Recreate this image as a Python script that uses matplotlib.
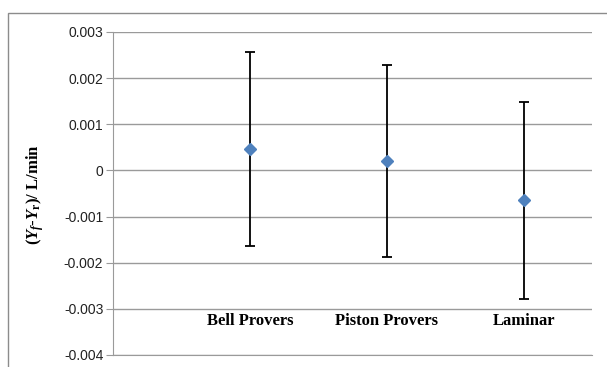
import numpy as np
import matplotlib.pyplot as plt
from matplotlib.patches import Rectangle

plt.rcParams['mathtext.fontset'] = 'custom'
plt.rcParams['mathtext.rm'] = 'Liberation Serif:bold'
plt.rcParams['mathtext.it'] = 'Liberation Serif:bold:italic'
plt.rcParams['mathtext.bf'] = 'Liberation Serif:bold'

# data
categories = ['Bell Provers', 'Piston Provers', 'Laminar']
means = [0.00047, 0.00020, -0.00065]
errors = [0.00210, 0.00208, 0.00213]
yticks = [0.003, 0.002, 0.001, 0, -0.001, -0.002, -0.003, -0.004]
ytick_labels = ['0.003', '0.002', '0.001', '0', '-0.001', '-0.002', '-0.003', '-0.004']

fig = plt.figure(figsize=(6.07, 3.67), dpi=100)
ax = fig.add_axes([113/607, 1-355/367, (592-113)/607, (355-32)/367])

x = np.arange(1, len(categories)+1)
ax.errorbar(x, means, yerr=errors, fmt='none', ecolor='black', elinewidth=1.3,
            capsize=3.5, capthick=1.3, zorder=3)
ax.plot(x, means, 'D', color='#4F81BD', markersize=6.5, zorder=4)

ax.set_xlim(0, 3.5)
ax.set_ylim(-0.004, 0.003)
ax.set_yticks(yticks)
ax.set_yticklabels(ytick_labels, fontsize=10, family='Liberation Sans', color='#222222')
ax.set_xticks([])
ax.yaxis.grid(True, color='#9a9a9a', linewidth=1)
ax.set_axisbelow(True)
for s in ['top', 'right']:
    ax.spines[s].set_visible(False)
ax.spines['left'].set_color('#9a9a9a')
ax.spines['bottom'].set_color('#9a9a9a')
ax.tick_params(axis='y', length=5, color='#9a9a9a', pad=2)

for xi, name in zip(x, categories):
    ax.text(xi, -0.00327, name, ha='center', va='center', fontsize=12,
            family='Liberation Serif', fontweight='bold')

fig.text(35/607, 1-195/367, r'$(Y_f$-$Y_{\mathrm{r}})$/ L/min', rotation=90,
         ha='center', va='center', fontsize=12, family='Liberation Serif',
         fontweight='bold')

# outer chart frame
fig.patches.append(Rectangle((8/607, -0.1), 1.2, 1-13/367+0.1, transform=fig.transFigure,
                             fill=False, edgecolor='#8c8c8c', linewidth=1, clip_on=False))

fig.savefig('out.png', dpi=100)
